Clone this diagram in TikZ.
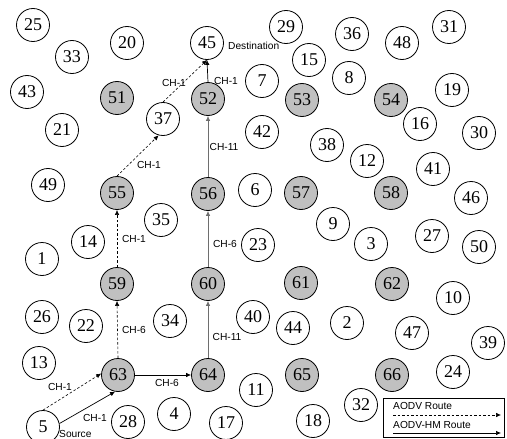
\documentclass[tikz,border=0pt]{standalone}
\usepackage{fontspec}
\setmainfont{Liberation Serif}
\setsansfont{Liberation Sans}
\usetikzlibrary{arrows.meta}
\definecolor{chfill}{RGB}{192,192,192}
\definecolor{vline}{RGB}{110,110,110}
\tikzset{
  nd/.style={circle,draw=black,line width=0.8pt,minimum size=33pt,inner sep=0pt,font=\fontsize{18}{18}\selectfont},
  ch/.style={nd,fill=chfill},
  lbl/.style={font=\sffamily\fontsize{10.2}{11}\selectfont,inner sep=0pt},
  aodv/.style={dashed,dash pattern=on 2.5pt off 2pt,line width=0.6pt,-{Latex[length=5pt,width=4.5pt]}},
  hm/.style={line width=0.7pt,-{Latex[length=5pt,width=4.5pt]}},
  hmg/.style={hm,draw=vline},
}
\begin{document}
\begin{tikzpicture}[x=1pt,y=-1pt]
\useasboundingbox (0,0) rectangle (507,439);
% white nodes
\foreach \n/\x/\y in {25/33/25,33/72/57,20/127/43,45/207/43,43/27/92,21/62/130,37/163/119,49/48/185,35/161/220,29/286/27,36/352/34,48/402/43,31/449/27,15/309/60,7/262/81,8/349/78,19/452/90,16/420/124,30/479/133,42/262/132,38/327/145,12/367/161,41/433/169,46/471/198,6/255/190,14/88/242,1/42/259,26/42/317,22/86/326,34/170/321,13/39/363,5/43/427,28/128/422,4/174/414,17/226/423,23/258/245,40/253/317,11/256/390,9/333/224,3/371/244,27/432/236,50/479/247,10/453/298,44/293/328,2/347/323,47/412/333,39/488/343,24/453/372,32/361/405,18/313/421}
  \node[nd] (n\n) at (\x,\y) {\n};
% cluster heads
\foreach \n/\x/\y in {51/117/98,52/208/99,53/302/100,54/391/100,55/117/193,56/208/194,57/301/193,58/391/193,59/117/284,60/208/284,61/301/283,62/392/284,63/118/375,64/208/375,65/302/375,66/392/375}
  \node[ch] (n\n) at (\x,\y) {\n};
% labels
\node[lbl,anchor=west] (dest) at (228,46) {Destination};
\node[lbl,anchor=west] (src) at (59,434) {Source};
% AODV route (dashed)
\draw[aodv] (n5.north) -- (n63.175);
\draw[aodv] (n63.north) -- (n59.south);
\draw[aodv] (n59.north) -- (n55.south);
\draw[aodv] (n55.north) -- (n37.-105);
\draw[aodv] (n37.north) -- (n45.south);
% AODV-HM route (solid)
\draw[hm] (n5.12) -- (n63.-100);
\draw[hm] (n63.east) -- (n64.west);
\draw[hmg] (n64.north) -- (n60.south);
\draw[hmg] (n60.north) -- (n56.south);
\draw[hmg] (n56.north) -- (n52.south);
\draw[hm] (n52.north) -- (n45.south);
% channel labels
\node[lbl] (l1) at (60,387) {CH-1};
\node[lbl] (l2) at (95,418) {CH-1};
\node[lbl] (l3) at (167,383) {CH-6};
\node[lbl] (l4) at (134,330) {CH-6};
\node[lbl] (l5) at (227,337) {CH-11};
\node[lbl] (l6) at (134,239) {CH-1};
\node[lbl] (l7) at (225,244) {CH-6};
\node[lbl] (l8) at (149,165) {CH-1};
\node[lbl] (l9) at (224,147) {CH-11};
\node[lbl] (l10) at (174,83) {CH-1};
\node[lbl] (l11) at (226,81) {CH-1};
% legend
\node[draw=black,line width=0.7pt,minimum width=121pt,minimum height=39pt,inner sep=0pt,anchor=north west] (leg) at (383,398) {};
\node[lbl,anchor=west] (t1) at (393,406) {AODV Route};
\node[lbl,anchor=west] (t2) at (393,425) {AODV-HM Route};
\coordinate (a1) at (393,415);
\coordinate (b1) at (501,415);
\coordinate (a2) at (393,433);
\coordinate (b2) at (501,433);
\draw[aodv] (a1) -- (b1);
\draw[hm] (a2) -- (b2);
\end{tikzpicture}
\end{document}
